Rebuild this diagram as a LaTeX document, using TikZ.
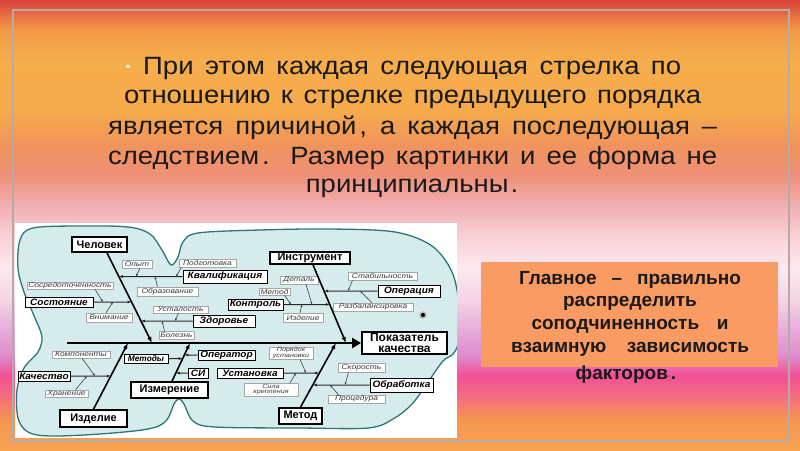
\documentclass[tikz,border=0pt]{standalone}
\usepackage{fontspec}
\setmainfont{Liberation Sans}
\newfontfamily\lblfont[FakeStretch=1.2]{Liberation Sans}
\newfontfamily\ttlfont[FakeStretch=1.1]{Liberation Sans}
\newfontfamily\subfont[FakeStretch=1.08]{Liberation Sans}
\usetikzlibrary{arrows.meta}
\definecolor{blobfill}{HTML}{D6ECEC}
\definecolor{blobline}{HTML}{2E7676}
\definecolor{obox}{HTML}{F99B63}
\definecolor{framec}{HTML}{B4AAAA}
\definecolor{ink}{HTML}{1A1A1A}
\definecolor{lbl}{HTML}{3A3A3A}
\definecolor{g00}{HTML}{D9423A}
\definecolor{g10}{HTML}{E4603F}
\definecolor{g30}{HTML}{F19A47}
\definecolor{g60}{HTML}{F6AD4B}
\definecolor{g110}{HTML}{F6AA4C}
\definecolor{g145}{HTML}{F1935C}
\definecolor{g175}{HTML}{EE9078}
\definecolor{g205}{HTML}{F1AEB2}
\definecolor{g235}{HTML}{F8D0D4}
\definecolor{g268}{HTML}{FCE9EE}
\definecolor{g300}{HTML}{F5D4E6}
\definecolor{g330}{HTML}{E7ABD9}
\definecolor{g355}{HTML}{DE8DCE}
\definecolor{g375}{HTML}{F24F96}
\definecolor{g395}{HTML}{F46B82}
\definecolor{g420}{HTML}{F7964F}
\definecolor{g450}{HTML}{F8A352}
\newcommand{\mkbox}[7]{\node[#1, minimum width={#5-#3}, minimum height={#6-#4}] (#2) at ({(#3+#5)/2},{(#4+#6)/2}) {#7};}
\begin{document}
\begin{tikzpicture}[x=1pt,y=-1pt,
  mainbox/.style={draw=black, line width=1.7pt, fill=white, inner sep=0pt, text=black, font=\bfseries\fontsize{11}{11}\selectfont},
  subbox/.style={draw=black, line width=0.9pt, fill=white, inner sep=0pt, text=black, font=\subfont\bfseries\itshape\fontsize{9.3}{10}\selectfont},
  smallbox/.style={draw=gray!70, line width=0.5pt, fill=white, inner sep=0pt, text=lbl, align=center, font=\lblfont\itshape\fontsize{7}{7}\selectfont},
  tinytwo/.style={font=\lblfont\itshape\fontsize{6}{5.5}\selectfont},
  bone/.style={line width=1.6pt, draw=black, -{Latex[length=6pt,width=4.5pt]}},
  subbone/.style={line width=1pt, draw=black!85, -{Latex[length=4pt,width=3pt]}},
  twig/.style={line width=0.6pt, draw=black!75, -{Latex[length=2.5pt,width=2.2pt]}},
  title/.style={inner sep=0pt, text=ink, font=\ttlfont\fontsize{25}{30}\selectfont},
  rtext/.style={inner sep=0pt, text=ink, font=\bfseries\fontsize{19}{22}\selectfont},
]
\useasboundingbox (0,0) rectangle (800,450);
% background bands
\fill[top color=g00, bottom color=g10] (0,0) rectangle (800,10.5);
\fill[top color=g10, bottom color=g30] (0,10) rectangle (800,30.5);
\fill[top color=g30, bottom color=g60] (0,30) rectangle (800,60.5);
\fill[top color=g60, bottom color=g110] (0,60) rectangle (800,110.5);
\fill[top color=g110, bottom color=g145] (0,110) rectangle (800,145.5);
\fill[top color=g145, bottom color=g175] (0,145) rectangle (800,175.5);
\fill[top color=g175, bottom color=g205] (0,175) rectangle (800,205.5);
\fill[top color=g205, bottom color=g235] (0,205) rectangle (800,235.5);
\fill[top color=g235, bottom color=g268] (0,235) rectangle (800,268.5);
\fill[top color=g268, bottom color=g300] (0,268) rectangle (800,300.5);
\fill[top color=g300, bottom color=g330] (0,300) rectangle (800,330.5);
\fill[top color=g330, bottom color=g355] (0,330) rectangle (800,355.5);
\fill[top color=g355, bottom color=g375] (0,355) rectangle (800,375.5);
\fill[top color=g375, bottom color=g395] (0,375) rectangle (800,395.5);
\fill[top color=g395, bottom color=g420] (0,395) rectangle (800,420.5);
\fill[top color=g420, bottom color=g450] (0,420) rectangle (800,450);
% frame
\draw[framec, line width=1.2pt] (13,10) rectangle (789,441);
% title
\node[text=gray!20, inner sep=0pt, font=\fontsize{14}{14}\selectfont] (bul) at (128,68) {•};
\node[title, anchor=west] (t1) at (143,68) {\makebox[538pt][s]{При этом каждая следующая стрелка по}};
\node[title, anchor=west] (t2) at (124,99) {\makebox[577pt][s]{отношению к стрелке предыдущего порядка}};
\node[title, anchor=west] (t3) at (108,128) {\makebox[609pt][s]{является причиной\kern3pt, а каждая последующая –}};
\node[title, anchor=west] (t4) at (108,158) {\makebox[609pt][s]{следствием\kern3pt. Размер картинки и ее форма не}};
\node[title] (t5) at (412,188) {принципиальны\kern2pt.};
% right box
\node[fill=obox, minimum width=297, minimum height=105, inner sep=0pt] (rb) at (629.5,314.5) {};
\node[rtext] (rb1) at (630,280) {\makebox[222pt][s]{Главное – правильно}};
\node[rtext] (rb2) at (630,303) {распределить};
\node[rtext] (rb3) at (630,326) {\makebox[197pt][s]{соподчиненность и}};
\node[rtext] (rb4) at (630,349) {\makebox[238pt][s]{взаимную зависимость}};
\node[rtext] (rb5) at (626,375) {факторов\kern3pt.};
% picture area
\fill[white] (15,223) rectangle (457,438);
\begin{scope}
\clip (15,223) rectangle (457,438);
\filldraw[fill=blobfill, draw=blobline, line width=1.3pt] plot[smooth cycle, tension=0.55] coordinates {
(20,240) (33,228) (80,226) (128,227) (150,234) (162,250) (171,265) (178,257) (183,242) (198,233) (260,230) (330,229) (395,232) (432,246) (452,272) (459,305) (459,340) (453,354) (443,361) (428,382) (412,404) (393,419) (368,428) (300,428) (215,427) (193,421) (184,404) (179,399) (174,404) (166,421) (148,429) (100,434) (50,436) (28,432) (18,418) (17,390) (24,368) (38,352) (42,337) (35,318) (24,292) (18,268)};
\end{scope}
\node[circle, fill=black, draw=gray!55, line width=1.6pt, inner sep=0pt, minimum size=6pt] (dot) at (423,315) {};
% main boxes
\mkbox{mainbox}{chel}{72}{237}{127}{252}{Человек}
\mkbox{mainbox}{instr}{270}{252}{350}{264}{Инструмент}
\mkbox{mainbox}{izd}{60}{410}{127}{427}{Изделие}
\mkbox{mainbox}{izm}{131}{382}{208}{398}{Измерение}
\mkbox{mainbox}{metod}{279}{408}{322}{424}{Метод}
\mkbox{mainbox, align=center, font=\bfseries\fontsize{12}{10.5}\selectfont}{pok}{362}{332}{447}{354}{Показатель\\качества}
% sub boxes
\mkbox{subbox}{kval}{183}{270}{267}{283}{Квалификация}
\mkbox{subbox}{zdor}{193}{315}{255}{327}{Здоровье}
\mkbox{subbox}{sost}{25}{297}{93}{307}{Состояние}
\mkbox{subbox}{kach}{18}{371}{70}{381}{Качество}
\mkbox{subbox, font=\bfseries\itshape\fontsize{8.3}{9}\selectfont}{metody}{124}{354}{168}{363}{Методы}
\mkbox{subbox}{oper}{198}{350}{255}{360}{Оператор}
\mkbox{subbox}{si}{188}{368}{208}{378}{СИ}
\mkbox{subbox}{ustan}{217}{368}{283}{378}{Установка}
\mkbox{subbox}{obrab}{370}{378}{433}{392}{Обработка}
\mkbox{subbox}{operac}{378}{285}{440}{297}{Операция}
\mkbox{subbox}{kontr}{228}{299}{283}{310}{Контроль}
% small boxes
\mkbox{smallbox}{opyt}{122}{260}{152}{268}{Опыт}
\mkbox{smallbox}{podg}{179}{259}{236}{267}{Подготовка}
\mkbox{smallbox}{obraz}{137}{287}{198}{296}{Образование}
\mkbox{smallbox}{usta}{153}{306}{208}{313}{Усталость}
\mkbox{smallbox}{bol}{159}{331}{194}{339}{Болезнь}
\mkbox{smallbox}{sosr}{27}{282}{113}{289}{Сосредоточенность}
\mkbox{smallbox}{vnim}{86}{313}{132}{322}{Внимание}
\mkbox{smallbox}{komp}{52}{351}{110}{358}{Компоненты}
\mkbox{smallbox}{hran}{45}{390}{88}{397}{Хранение}
\mkbox{smallbox, tinytwo}{poryad}{269}{347}{313}{359}{Порядок\\установки}
\mkbox{smallbox, tinytwo}{sila}{244}{383}{298}{396}{Сила\\крепления}
\mkbox{smallbox}{skor}{338}{363}{385}{372}{Скорость}
\mkbox{smallbox}{proc}{328}{395}{385}{403}{Процедура}
\mkbox{smallbox}{stab}{348}{272}{417}{280}{Стабильность}
\mkbox{smallbox}{razb}{333}{303}{413}{311}{Разбалансировка}
\mkbox{smallbox}{metodsm}{259}{288}{290}{295}{Метод}
\mkbox{smallbox}{detal}{280}{276}{318}{284}{Деталь}
\mkbox{smallbox}{izdsm}{283}{313}{323}{322}{Изделие}
% bone coordinates
\coordinate (spS) at (67,343);
\coordinate (b1s) at ([xshift=7.5pt]chel.south);
\coordinate (b1e) at (152,343);
\coordinate (b2s) at (izd.north);
\coordinate (b2e) at (128,343);
\coordinate (b3s) at ([xshift=2.5pt]izm.north);
\coordinate (b3e) at (190,343);
\coordinate (b4s) at ([xshift=3pt]instr.south);
\coordinate (b4e) at (346,343);
\coordinate (b5s) at (metod.north);
\coordinate (b5e) at (336,343);
% spine
\draw[line width=2.6pt, -{Triangle[length=9pt,width=10pt]}] (spS) -- (pok.west);
% main bones
\draw[bone] (b1s) -- (b1e);
\draw[bone] (b2s) -- (b2e);
\draw[bone] (b3s) -- (b3e);
\draw[bone] (b4s) -- (b4e);
\draw[bone] (b5s) -- (b5e);
% sub bones
\draw[subbone] (kval.west) -- (intersection of b1s--b1e and kval.west--kval.east);
\draw[subbone] (zdor.west) -- (intersection of b1s--b1e and zdor.west--zdor.east);
\draw[subbone] (sost.east) -- (intersection of b1s--b1e and sost.west--sost.east);
\draw[subbone] (kach.east) -- (intersection of b2s--b2e and kach.west--kach.east);
\draw[subbone] (metody.east) -- (intersection of b3s--b3e and metody.west--metody.east);
\draw[subbone] (oper.west) -- (intersection of b3s--b3e and oper.west--oper.east);
\draw[subbone] (si.west) -- (intersection of b3s--b3e and si.west--si.east);
\draw[subbone] (ustan.east) -- (intersection of b5s--b5e and ustan.west--ustan.east);
\draw[subbone] (obrab.west) -- (intersection of b5s--b5e and obrab.west--obrab.east);
\draw[subbone] (operac.west) -- (intersection of b4s--b4e and operac.west--operac.east);
\draw[subbone] (kontr.east) -- (intersection of b4s--b4e and kontr.west--kontr.east);
% twigs
\draw[twig] ([xshift=3pt]opyt.south) -- (kval.west -| 136,0);
\draw[twig] ([xshift=-26pt]podg.south) -- (kval.west -| 176,0);
\draw[twig] ([xshift=-10pt]obraz.north) -- (kval.west -| 155,0);
\draw[twig] ([xshift=-2pt]usta.south) -- (zdor.west -| 175,0);
\draw[twig] ([xshift=-12pt]bol.north) -- (zdor.west -| 162,0);
\draw[twig] ([xshift=25pt]sosr.south) -- (sost.east -| 103,0);
\draw[twig] ([xshift=-3pt]vnim.north) -- (sost.east -| 113,0);
\draw[twig] ([xshift=1pt]komp.south) -- (kach.east -| 95,0);
\draw[twig] ([xshift=9pt]hran.north) -- (kach.east -| 87,0);
\draw[twig] ([xshift=9pt]poryad.south) -- (ustan.east -| 306,0);
\draw[twig] ([xshift=19pt]sila.north) -- (ustan.east -| 296,0);
\draw[twig] ([xshift=-13pt]skor.south) -- (obrab.west -| 345,0);
\draw[twig] ([xshift=-18pt]proc.north) -- (obrab.west -| 330,0);
\draw[twig] ([xshift=-30pt]stab.south) -- (operac.west -| 348,0);
\draw[twig] ([xshift=-1pt]razb.north) -- (operac.west -| 360,0);
\draw[twig] ([xshift=10pt]metodsm.south) -- (kontr.east -| 291,0);
\draw[twig] ([xshift=7pt]detal.south) -- (kontr.east -| 312,0);
\draw[twig] ([xshift=-3pt]izdsm.north) -- (kontr.east -| 302,0);
\end{tikzpicture}
\end{document}
